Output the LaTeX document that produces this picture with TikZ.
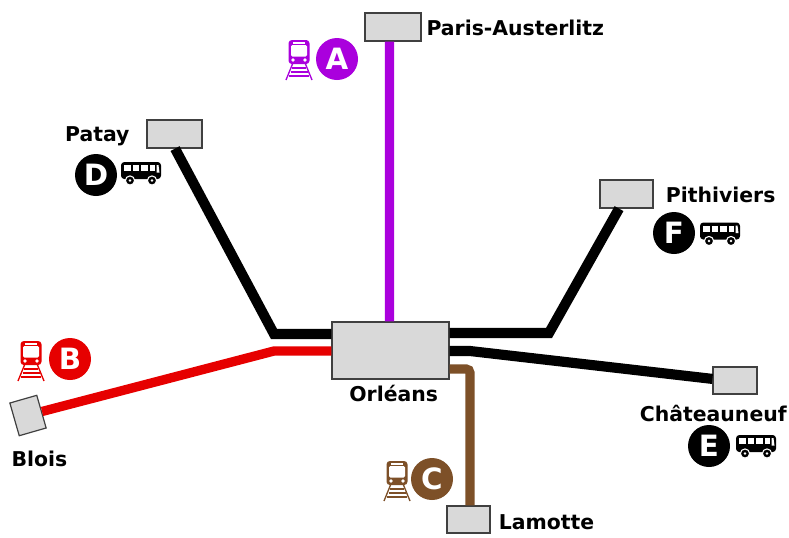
\documentclass[tikz,border=0pt]{standalone}
\usepackage{fontspec}
\setmainfont{DejaVu Sans}
\definecolor{LineA}{HTML}{AA00DD}
\definecolor{LineB}{HTML}{E60000}
\definecolor{LineC}{HTML}{7D5028}
\definecolor{BoxFill}{HTML}{D9D9D9}
\definecolor{BoxEdge}{HTML}{404040}
\usetikzlibrary{positioning}
\tikzset{%
  station/.style={rectangle,draw=BoxEdge,fill=BoxFill,line width=0.9pt,inner sep=0pt,minimum width=#1},
  link/.style={line width=7pt,draw=#1},
  heavy link/.style={line width=7.6pt,draw=black},
  place/.style={font=\bfseries\fontsize{15.3}{17}\selectfont,inner sep=0pt},
  badge/.style={circle,fill=#1,text=white,font=\bfseries\fontsize{22}{24}\selectfont,minimum size=31.5pt,inner sep=0pt},
  trainicon/.pic={code={
    \fill[rounded corners=2.5pt] (-10.5,-20) rectangle (10.5,4);
    \fill[white,rounded corners=1pt] (-8,-15) rectangle (8,-3.5);
    \fill[white] (-6,-18) rectangle (6,-16.5);
    \fill[white] (-6,0) circle (1.8);
    \fill[white] (6,0) circle (1.8);
    \draw[line width=1pt] (-6.5,4) -- (-13,20);
    \draw[line width=1pt] (6.5,4) -- (13,20);
    \draw[line width=1pt] (-7,8) -- (7,8);
    \draw[line width=1pt] (-8.5,12) -- (8.5,12);
    \draw[line width=1pt] (-10,16) -- (10,16);
  }},
  busicon/.pic={code={
    \fill[rounded corners=2.5pt] (-20,-11.5) rectangle (20,5.5);
    \fill[white] (-17,-8.5) rectangle (-10.5,-2.5);
    \fill[white] (-8.5,-8.5) rectangle (-2,-2.5);
    \fill[white] (0,-8.5) rectangle (6.5,-2.5);
    \fill[white] (8.5,-8.5) rectangle (14,-2.5);
    \fill[white] (15.5,-8.5) -- (17.5,-8.5) -- (18.5,-1) -- (15.5,-1) -- cycle;
    \fill[draw=white,line width=0.8pt] (-11,7) circle (4.6);
    \fill[draw=white,line width=0.8pt] (11,7) circle (4.6);
    \fill[white] (-11,7) circle (1.4);
    \fill[white] (11,7) circle (1.4);
  }}
}
\begin{document}
\begin{tikzpicture}[x=0.75pt,y=-0.75pt]
 \useasboundingbox (0,0) rectangle (789,537);

 % stations
 \node[station=87.75pt,minimum height=42.75pt] (orleans) at (390.5,350.5) {};
 \node[station=42pt,minimum height=21pt] (paris) at (393,27) {};
 \node[station=41.25pt,minimum height=21pt] (patay) at (174.5,134) {};
 \node[station=39.75pt,minimum height=21pt] (pithiviers) at (626.5,194) {};
 \node[station=33pt,minimum height=20.25pt] (chateauneuf) at (735,380.5) {};
 \node[station=32.25pt,minimum height=20.25pt] (lamotte) at (468.5,519.5) {};
 \node[station=21pt,minimum height=25.5pt,rotate=16] (blois) at (28,415.5) {};

 \coordinate (bendD) at (274,334);
 \coordinate (bendB) at (274,351);
 \coordinate (bendF) at (549,333);
 \coordinate (bendE) at (470,351);
 \coordinate (bendC) at (470,369);

 % lines
 \draw[link=LineA] ([xshift=-0.75pt]orleans.north) -- ([xshift=-2.6pt]paris.south);
 \draw[heavy link] ([xshift=0.4pt]patay.south) -- (bendD) -- (orleans.west |- bendD);
 \draw[link=LineB] (orleans.west |- bendB) -- (bendB) -- (blois.east);
 \draw[heavy link] (orleans.east |- bendF) -- (bendF) -- ([xshift=-5.6pt]pithiviers.south);
 \draw[heavy link] (orleans.east |- bendE) -- (bendE) -- ([yshift=1.2pt]chateauneuf.west);
 \draw[link=LineC,rounded corners=3pt] (orleans.east |- bendC) -- (bendC) -- ([xshift=1.1pt]lamotte.north);

 % names
 \node[place,below=4pt of orleans,xshift=2.4pt] (lblorleans) {Orléans};
 \node[place,right=3.5pt of paris,yshift=-0.5pt] (lblparis) {Paris-Austerlitz};
 \node[place,left=12.5pt of patay,yshift=-2pt] (lblpatay) {Patay};
 \node[place,right=9pt of pithiviers,yshift=-0.5pt] (lblpithiviers) {Pithiviers};
 \node[place,anchor=east] (lblchateauneuf) at (787,413) {Châteauneuf};
 \node[place,right=6pt of lamotte,yshift=-2pt] (lbllamotte) {Lamotte};
 \node[place] (lblblois) at (39.5,459) {Blois};

 % letters and vehicles
 \node[badge=LineA] (badgeA) at (337,59) {A};
 \node[badge=LineB] (badgeB) at (70,359) {B};
 \node[badge=LineC] (badgeC) at (432,479) {C};
 \node[badge=black] (badgeD) at (96,175) {D};
 \node[badge=black] (badgeE) at (709,446) {E};
 \node[badge=black] (badgeF) at (674,233) {F};

 \pic[color=LineA] at (299,60) {trainicon};
 \pic[color=LineB] at (31,361) {trainicon};
 \pic[color=LineC] at (397,481) {trainicon};
 \pic[color=black] at (141,173.5) {busicon};
 \pic[color=black] at (756,446.5) {busicon};
 \pic[color=black] at (720,234) {busicon};

\end{tikzpicture}
\end{document}
